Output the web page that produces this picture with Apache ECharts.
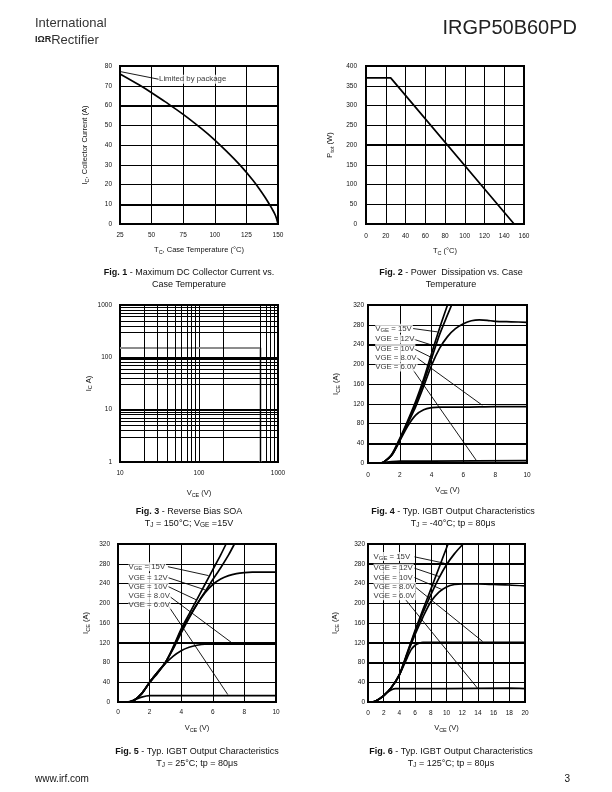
<!DOCTYPE html>
<html>
<head>
<meta charset="utf-8">
<title>IRGP50B60PD</title>
<script src="https://cdn.jsdelivr.net/npm/echarts@6/dist/echarts.min.js"></script>
<style>
  html, body { margin: 0; padding: 0; background: #fff; }
  #page { width: 612px; height: 792px; }
</style>
</head>
<body>
<div id="page"></div>
<script>
const FONT = '"Liberation Sans", Arial, Helvetica, sans-serif';

// Fig. 1 - max DC collector current vs case temperature
const fig1Temp = [25, 40, 50, 60, 75, 90, 100, 110, 120, 130, 135, 140, 145, 148, 150];
const fig1Current = [76, 70.5, 66.5, 62.2, 55.5, 48, 42.5, 36.4, 29.8, 22.3, 18, 13.3, 8, 4.3, 0];
const fig1Package = [[25, 77.2], [55.5, 73.3]];

// Fig. 2 - power dissipation vs case temperature
const fig2Temp = [0, 25, 150];
const fig2Power = [370, 370, 0];

// Fig. 3 - reverse bias SOA
const fig3Vce = [10, 600, 600];
const fig3Ic = [150, 150, 1];
const fig3MinorX = [20, 30, 40, 50, 60, 70, 80, 90, 200, 600, 700, 800, 900];
const fig3MinorY = [3, 4, 5, 6, 7, 8, 9, 30, 40, 50, 60, 70, 80, 90, 300, 400, 500, 600, 700, 800, 900];

// VGE curve names, shared by fig 4-6
const vgeNames = ['15V', '12V', '10V', '8.0V', '6.0V'];

// Fig. 4 - TJ = -40C
const fig4Vge15 = [[0.8, 0], [1, 2], [1.5, 18], [2, 50], [2.5, 86], [3, 125], [3.5, 170], [4, 222], [4.5, 273], [5, 320]];
const fig4Vge12 = [[0.8, 0], [1, 2], [1.5, 17], [2, 48], [2.5, 83], [3, 120], [3.5, 163], [4, 212], [4.5, 260], [5, 300], [5.26, 320]];
const fig4Vge10 = [[0.8, 0], [1, 2], [1.5, 16], [2, 46], [2.5, 80], [3, 114], [3.5, 155], [4, 198], [4.5, 232], [5, 256], [5.5, 272], [6, 282], [6.5, 288], [7, 290], [7.5, 289], [8, 287], [9, 286], [10, 285]];
const fig4Vge8 = [[0.8, 0], [1, 2], [1.5, 16], [2, 45], [2.5, 75], [3, 97], [3.5, 108], [4, 112], [4.5, 113], [6, 113], [8, 114], [10, 114]];
const fig4Vge6 = [[0, 0], [0.8, 0], [1, 1], [1.5, 3], [2, 4], [4, 4], [10, 5]];

// Fig. 5 - TJ = 25C
const fig5Vge15 = [[0.7, 0], [1, 3], [1.5, 17], [2, 40], [2.5, 60], [3, 80], [3.5, 112], [4, 148], [4.5, 178], [5, 208], [5.5, 238], [6, 268], [6.5, 298], [6.84, 320]];
const fig5Vge12 = [[0.7, 0], [1, 3], [1.5, 17], [2, 40], [2.5, 60], [3, 80], [3.5, 110], [4, 145], [4.5, 172], [5, 198], [5.5, 223], [6, 248], [6.5, 272], [7, 298], [7.37, 320]];
const fig5Vge10 = [[0.7, 0], [1, 3], [1.5, 17], [2, 40], [2.5, 60], [3, 80], [3.5, 108], [4, 140], [4.5, 170], [5, 198], [5.5, 221], [6, 238], [6.5, 249], [7, 256], [7.5, 260], [8, 262], [8.5, 263], [10, 263]];
const fig5Vge8 = [[0.7, 0], [1, 3], [1.5, 17], [2, 39], [2.5, 58], [3, 78], [3.5, 93], [4, 104], [4.5, 111], [5, 115], [5.5, 117], [6, 117], [10, 117]];
const fig5Vge6 = [[0, 0], [0.6, 0], [1, 4], [1.5, 10], [2, 13], [2.5, 13], [10, 13]];

// Fig. 6 - TJ = 125C
const fig6Vge15 = [[0.5, 0], [1, 2], [2, 13], [3, 30], [4, 56], [5, 100], [6, 145], [7, 187], [8, 228], [9, 270], [10, 312], [10.2, 320]];
const fig6Vge12 = [[0.5, 0], [1, 2], [2, 13], [3, 30], [4, 55], [5, 98], [6, 142], [7, 181], [8, 217], [9, 250], [10, 278], [11, 300], [12, 318], [12.15, 320]];
const fig6Vge10 = [[0.5, 0], [1, 2], [2, 13], [3, 30], [4, 55], [5, 97], [6, 137], [7, 172], [8, 203], [9, 222], [10, 233], [11, 238], [12, 239], [14, 239], [16, 238], [18, 237], [20, 235]];
const fig6Vge8 = [[0.5, 0], [1, 2], [2, 13], [3, 30], [4, 55], [5, 90], [5.5, 106], [6, 115], [6.5, 119], [7, 121], [10, 121], [14, 121], [20, 121]];
const fig6Vge6 = [[0, 0], [0.5, 0], [1, 2], [2, 13], [2.5, 20], [3, 25], [3.5, 27], [4, 27], [10, 27], [18, 28], [20, 27]];

// annotation anchors (data coords): label left edge, leader start, leader end
const fig4TagAt = [[0.42, 272.7], [0.42, 251], [0.42, 232], [0.42, 213.5], [0.42, 194.6]];
const fig4LeadFrom = [[2.84, 272.3], [2.84, 251], [2.84, 232], [3.05, 213.5], [2.74, 193]];
const fig4LeadTo = [[4.38, 265.5], [4.0, 239], [4.1, 212], [7.19, 117], [6.81, 5.4]];
const fig5TagAt = [[0.63, 274], [0.63, 252], [0.63, 234], [0.63, 215], [0.63, 197]];
const fig5LeadFrom = [[3.16, 274], [3.16, 252], [3.16, 234], [3.26, 214], [3.16, 196]];
const fig5LeadTo = [[5.73, 256], [5.52, 227], [4.95, 207], [7.16, 121], [6.95, 15]];
const fig6TagAt = [[0.64, 294.5], [0.64, 271], [0.64, 252], [0.64, 234], [0.64, 215]];
const fig6LeadFrom = [[5.93, 294], [5.93, 271], [5.93, 252], [5.93, 234], [4.8, 207]];
const fig6LeadTo = [[9.75, 281], [9.1, 254], [9.53, 227], [14.6, 122.6], [14.0, 27]];

const zip = (xs, ys) => xs.map((x, i) => [x, ys[i]]);

const nameRich = {
  n: { fontSize: 7.5, fontFamily: FONT, color: '#111', lineHeight: 10 },
  s: { fontSize: 5.5, fontFamily: FONT, color: '#111', lineHeight: 6, verticalAlign: 'bottom' }
};
const tagRich = {
  n: { fontSize: 7.8, fontFamily: FONT, color: '#000', lineHeight: 9 },
  s: { fontSize: 6, fontFamily: FONT, color: '#000', lineHeight: 6, verticalAlign: 'bottom' }
};

function grid(left, top, width, height) {
  return { left, top, width, height, show: true, borderColor: '#000', borderWidth: 2, backgroundColor: 'transparent' };
}

function axis(gi, type, min, max, interval, name, gap, margin) {
  const a = {
    type, gridIndex: gi, min, max,
    axisLine: { show: false }, axisTick: { show: false },
    splitLine: { show: true, lineStyle: { color: '#000', width: 1 } },
    axisLabel: { fontSize: 6.5, fontFamily: FONT, color: '#111', margin: margin },
    name, nameLocation: 'middle', nameGap: gap, nameTextStyle: { rich: nameRich }
  };
  if (type === 'log') {
    a.logBase = 10;
    a.axisLabel.formatter = v => String(Math.round(v));
  } else {
    a.interval = interval;
  }
  return a;
}

function curve(gi, data, extra) {
  return Object.assign({
    type: 'line', xAxisIndex: gi, yAxisIndex: gi, data,
    symbol: 'none', smooth: 0.25,
    lineStyle: { color: '#000', width: 1.7 },
    silent: true, animation: false, z: 3
  }, extra || {});
}

function heavy(axisKey, values, width) {
  return {
    silent: true, symbol: ['none', 'none'], label: { show: false }, animation: false,
    lineStyle: { color: '#000', width: width || 2.2, type: 'solid' },
    emphasis: { disabled: true },
    data: values.map(v => ({ [axisKey]: v }))
  };
}

function tags(gi, at, texts) {
  return {
    type: 'scatter', xAxisIndex: gi, yAxisIndex: gi, silent: true, animation: false,
    symbol: 'circle', symbolSize: 1, itemStyle: { color: 'rgba(0,0,0,0)' },
    data: at.map((p, i) => ({ value: p, label: { formatter: texts[i] } })),
    label: {
      show: true, position: 'right', distance: 0, backgroundColor: '#fff',
      padding: [0, 1, 0, 0], color: '#000', fontFamily: FONT, fontSize: 7.8, rich: tagRich
    },
    z: 6
  };
}

function leaders(gi, from, to) {
  return from.map((p, i) => ({
    type: 'line', xAxisIndex: gi, yAxisIndex: gi, data: [p, to[i]], symbol: 'none',
    lineStyle: { color: '#000', width: 0.9 }, silent: true, animation: false, z: 5
  }));
}

const vgeTags = vgeNames.map((v, i) => i === 0 ? '{n|V}{s|GE}{n| = ' + v + '}' : '{n|VGE = ' + v + '}');

const capRich = {
  b: { fontSize: 9, fontFamily: FONT, fontWeight: 'bold', fill: '#111', lineHeight: 11 },
  n: { fontSize: 9, fontFamily: FONT, fill: '#111', lineHeight: 11 },
  s: { fontSize: 6.5, fontFamily: FONT, fill: '#111', lineHeight: 7, verticalAlign: 'bottom' }
};
const logoRich = {
  b: { fontSize: 9, fontFamily: FONT, fontWeight: 'bold', fill: '#222', lineHeight: 13 },
  n: { fontSize: 13, fontFamily: FONT, fill: '#333', lineHeight: 13 }
};

function text(x, y, str, opts) {
  const o = opts || {};
  return {
    type: 'text', x, y, silent: true,
    style: {
      text: str, rich: o.rich || capRich, fill: o.fill || '#111', fontFamily: FONT,
      fontSize: o.size || 9, align: o.align || 'center', verticalAlign: 'middle'
    }
  };
}

const option = {
  animation: false,
  grid: [
    grid(120, 66, 158, 158),
    grid(366, 66, 158, 158),
    grid(120, 305, 158, 157),
    grid(368, 305, 159, 158),
    grid(118, 544, 158, 158),
    grid(368, 544, 157, 158)
  ],
  xAxis: [
    axis(0, 'value', 25, 150, 25, '{n|T}{s|C}{n|, Case Temperature (°C)}', 21, 8),
    axis(1, 'value', 0, 160, 20, '{n|T}{s|C}{n| (°C)}', 22, 9),
    axis(2, 'log', 10, 1000, null, '{n|V}{s|CE}{n| (V)}', 26, 8),
    axis(3, 'value', 0, 10, 2, '{n|V}{s|CE}{n| (V)}', 22, 9),
    axis(4, 'value', 0, 10, 2, '{n|V}{s|CE}{n| (V)}', 21, 7),
    axis(5, 'value', 0, 20, 2, '{n|V}{s|CE}{n| (V)}', 21, 8)
  ],
  yAxis: [
    axis(0, 'value', 0, 80, 10, '{n|I}{s|C}{n|, Collector Current (A)}', 30, 8),
    axis(1, 'value', 0, 400, 50, '{n|P}{s|tot}{n| (W)}', 31, 9),
    axis(2, 'log', 1, 1000, null, '{n|I}{s|C}{n| A)}', 26, 8),
    axis(3, 'value', 0, 320, 40, '{n|I}{s|CE}{n| (A)}', 27, 4),
    axis(4, 'value', 0, 320, 40, '{n|I}{s|CE}{n| (A)}', 27, 8),
    axis(5, 'value', 0, 320, 40, '{n|I}{s|CE}{n| (A)}', 28, 3)
  ],
  series: [
    // Fig. 1
    curve(0, zip(fig1Temp, fig1Current), { smooth: 0.4, markLine: heavy('yAxis', [60, 10]) }),
    {
      type: 'line', xAxisIndex: 0, yAxisIndex: 0, data: fig1Package, symbol: 'none',
      lineStyle: { color: '#000', width: 0.9 }, silent: true, animation: false, z: 4
    },
    tags(0, [fig1Package[1]], ['{n|Limited by package}']),
    // Fig. 2
    curve(1, zip(fig2Temp, fig2Power), { smooth: false, markLine: heavy('yAxis', [200]) }),
    // Fig. 3
    curve(2, zip(fig3Vce, fig3Ic), {
      smooth: false, lineStyle: { color: '#8c8c8c', width: 2 }, z: 4,
      markLine: {
        silent: true, symbol: ['none', 'none'], label: { show: false }, animation: false,
        emphasis: { disabled: true }, lineStyle: { color: '#000', width: 1, type: 'solid' },
        data: fig3MinorX.map(v => ({ xAxis: v }))
          .concat(fig3MinorY.map(v => ({ yAxis: v })))
          .concat([10, 100].map(v => ({ yAxis: v, lineStyle: { color: '#000', width: 2.2, type: 'solid' } })))
      }
    }),
    // Fig. 4
    curve(3, fig4Vge15, { markLine: heavy('yAxis', [240, 40]) }),
    curve(3, fig4Vge12),
    curve(3, fig4Vge10),
    curve(3, fig4Vge8),
    curve(3, fig4Vge6),
    ...leaders(3, fig4LeadFrom, fig4LeadTo),
    tags(3, fig4TagAt, vgeTags),
    // Fig. 5
    curve(4, fig5Vge15, { markLine: heavy('yAxis', [120]) }),
    curve(4, fig5Vge12),
    curve(4, fig5Vge10),
    curve(4, fig5Vge8),
    curve(4, fig5Vge6),
    ...leaders(4, fig5LeadFrom, fig5LeadTo),
    tags(4, fig5TagAt, vgeTags),
    // Fig. 6
    curve(5, fig6Vge15, { markLine: heavy('yAxis', [280, 120, 80]) }),
    curve(5, fig6Vge12),
    curve(5, fig6Vge10),
    curve(5, fig6Vge8),
    curve(5, fig6Vge6),
    ...leaders(5, fig6LeadFrom, fig6LeadTo),
    tags(5, fig6TagAt, vgeTags)
  ],
  graphic: [
    text(35, 23, '{n|International}', { rich: logoRich, align: 'left' }),
    text(35, 40, '{b|IΩR}{n|Rectifier}', { rich: logoRich, align: 'left' }),
    text(577, 28, 'IRGP50B60PD', { size: 20, align: 'right', fill: '#222' }),
    text(189, 273, '{b|Fig. 1}{n| - Maximum DC Collector Current vs.}'),
    text(189, 284.5, '{n|Case Temperature}'),
    text(451, 273, '{b|Fig. 2}{n| - Power  Dissipation vs. Case}'),
    text(451, 284.5, '{n|Temperature}'),
    text(189, 511.5, '{b|Fig. 3}{n| - Reverse Bias SOA}'),
    text(189, 523.5, '{n|T}{s|J}{n| = 150°C; V}{s|GE}{n| =15V}'),
    text(453, 511.5, '{b|Fig. 4}{n| - Typ. IGBT Output Characteristics}'),
    text(453, 523.5, '{n|T}{s|J}{n| = -40°C; tp = 80μs}'),
    text(197, 751.5, '{b|Fig. 5}{n| - Typ. IGBT Output Characteristics}'),
    text(197, 763.5, '{n|T}{s|J}{n| = 25°C; tp = 80μs}'),
    text(451, 751.5, '{b|Fig. 6}{n| - Typ. IGBT Output Characteristics}'),
    text(451, 763.5, '{n|T}{s|J}{n| = 125°C; tp = 80μs}'),
    text(35, 779, 'www.irf.com', { size: 10, align: 'left' }),
    text(570, 779, '3', { size: 10, align: 'right' })
  ]
};

const chart = echarts.init(document.getElementById('page'), null, { renderer: 'canvas' });
chart.setOption(option);
</script>
</body>
</html>
